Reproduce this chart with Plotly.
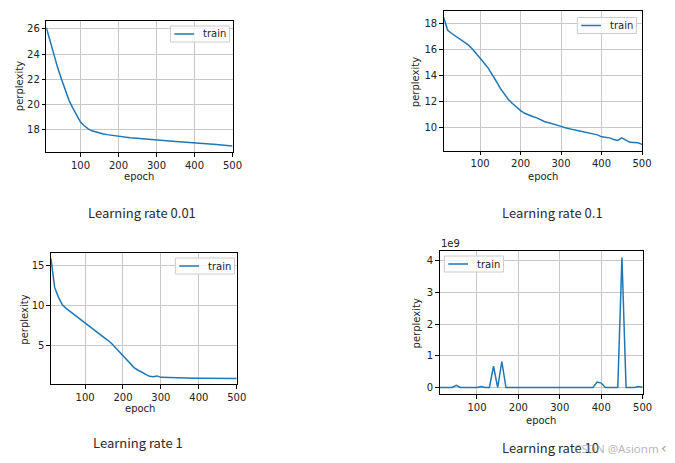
import plotly.graph_objects as go

epochs = list(range(10, 501, 10))

ppl_lr_001 = [26.1, 25.0, 23.9, 22.9, 22.0, 21.1, 20.3, 19.7, 19.1, 18.6,
              18.3, 18.05, 17.9, 17.8, 17.72, 17.65, 17.6, 17.55, 17.5, 17.47,
              17.43, 17.4, 17.36, 17.33, 17.3, 17.28, 17.25, 17.22, 17.19, 17.16,
              17.14, 17.11, 17.09, 17.07, 17.05, 17.03, 17.0, 16.98, 16.96, 16.93,
              16.91, 16.89, 16.87, 16.85, 16.83, 16.8, 16.77, 16.75, 16.72, 16.69]

ppl_lr_01 = [18.45, 17.45, 17.2, 17.0, 16.8, 16.6, 16.35, 16.05, 15.7, 15.35,
             14.95, 14.55, 14.1, 13.55, 13.0, 12.55, 12.15, 11.85, 11.55, 11.3,
             11.1, 10.95, 10.85, 10.75, 10.6, 10.45, 10.38, 10.3, 10.22, 10.1,
             10.0, 9.9, 9.85, 9.78, 9.72, 9.65, 9.57, 9.5, 9.45, 9.3,
             9.28, 9.22, 9.1, 9.02, 9.22, 9.05, 8.88, 8.86, 8.84, 8.72]

ppl_lr_1 = [15.8, 12.2, 11.0, 10.1, 9.65, 9.3, 8.95, 8.55, 8.15, 7.8,
            7.45, 7.1, 6.75, 6.4, 6.1, 5.7, 5.3, 4.8, 4.25, 3.7,
            3.2, 2.7, 2.3, 2.0, 1.75, 1.4, 1.25, 1.2, 1.3, 1.12,
            1.1, 1.15, 1.08, 1.05, 1.02, 1.02, 1.03, 1.02, 1.01, 1.02,
            1.01, 1.01, 1.0, 1.0, 1.0, 1.0, 0.99, 0.99, 0.98, 0.97]

ppl_lr_10 = [1e5, 2e5, 1e5, 1e5, 7e7, 1e5, 1e5, 1e7, 1e5, 1e5,
             3e7, 1e5, 1e5, 6.7e8, 1e5, 8.2e8, 1e5, 1e5, 1e5, 1e5,
             1e5, 1e5, 1e5, 1e5, 1e5, 1e5, 1e5, 1e5, 1e5, 1e5,
             1e5, 1e5, 1e5, 1e5, 2e7, 1e5, 1e5, 1e5, 1.7e8, 1.4e8,
             1e5, 1e5, 1e5, 1e5, 4.1e9, 1e5, 1e5, 1e5, 3e7, 1e7]

titles = ["Learning rate 0.01", "Learning rate 0.1", "Learning rate 1", "Learning rate 10"]
legend_label = "train"
x_ticks = [100, 200, 300, 400, 500]
y_ticks = [[18, 20, 22, 24, 26], [10, 12, 14, 16, 18], [5, 10, 15], [0, 1e9, 2e9, 3e9, 4e9]]
y_ticktext = [["18", "20", "22", "24", "26"], ["10", "12", "14", "16", "18"],
              ["5", "10", "15"], ["0", "1", "2", "3", "4"]]
y_ranges = [[16.22, 26.62], [8.24, 18.92], [0.3, 16.52], [-0.205e9, 4.305e9]]
series = [ppl_lr_001, ppl_lr_01, ppl_lr_1, ppl_lr_10]

W, H = 675, 463
BLUE = "#1f77b4"
# plot areas in pixels: (left, right, top, bottom)
boxes = [(47, 236, 21, 152), (450.3, 651.7, 11, 150.7),
         (51.7, 240.3, 252.7, 384), (446.3, 652.3, 251, 394)]

def px(x):
    return x / W

def py(y):
    return 1 - y / H

FONT = dict(family="DejaVu Sans", size=10, color="#222")
fig = go.Figure()
layout = dict(width=W, height=H, margin=dict(l=0, r=0, t=0, b=0),
              paper_bgcolor="white", plot_bgcolor="white", showlegend=False)

for i in range(4):
    l, r, t, b = boxes[i]
    sfx = "" if i == 0 else str(i + 1)
    fig.add_trace(go.Scatter(x=epochs, y=series[i], mode="lines", name=legend_label,
                             line=dict(color=BLUE, width=1.5),
                             xaxis="x" + sfx, yaxis="y" + sfx))
    common = dict(showline=True, linecolor="black", linewidth=1, mirror=True,
                  ticks="outside", ticklen=3.5, tickwidth=1, tickcolor="black",
                  showgrid=True, gridcolor="#c8c8c8", gridwidth=1, zeroline=False,
                  tickfont=FONT)
    layout["xaxis" + sfx] = dict(common, domain=[px(l), px(r)], range=[10, 500],
                                 tickvals=x_ticks, anchor="y" + sfx)
    layout["yaxis" + sfx] = dict(common, domain=[py(b), py(t)], range=y_ranges[i],
                                 tickvals=y_ticks[i], ticktext=y_ticktext[i],
                                 anchor="x" + sfx)

fig.update_layout(**layout)

# legend boxes (left, top) in pixels, matplotlib-style
legend_boxes = [(173, 26), (586, 17.5), (178, 258), (451, 256)]
LW, LH = 60, 16
shapes = []
ann = []
for (lx, ly) in legend_boxes:
    shapes.append(dict(type="rect", xref="paper", yref="paper",
                       x0=px(lx), x1=px(lx + LW), y0=py(ly + LH), y1=py(ly),
                       line=dict(color="#cccccc", width=1),
                       fillcolor="rgba(255,255,255,0.8)"))
    shapes.append(dict(type="line", xref="paper", yref="paper",
                       x0=px(lx + 4), x1=px(lx + 24), y0=py(ly + LH / 2), y1=py(ly + LH / 2),
                       line=dict(color=BLUE, width=1.5)))
    ann.append(dict(x=px(lx + 31), y=py(ly + LH / 2), xref="paper", yref="paper",
                    text=legend_label, showarrow=False, xanchor="left", yanchor="middle",
                    font=FONT))

epoch_pos = [(141.5, 176), (550.7, 176.7), (141.7, 408.3), (549.3, 420.7)]
ppl_pos = [(20, 86.5), (421.7, 81.7), (24, 320), (422.7, 323)]
for i in range(4):
    ex, ey = epoch_pos[i]
    ann.append(dict(x=px(ex), y=py(ey), xref="paper", yref="paper", text="epoch",
                    showarrow=False, xanchor="center", yanchor="middle", font=FONT))
    qx, qy = ppl_pos[i]
    ann.append(dict(x=px(qx), y=py(qy), xref="paper", yref="paper", text="perplexity",
                    showarrow=False, xanchor="center", yanchor="middle", textangle=-90,
                    font=FONT))

ann.append(dict(x=px(446), y=py(243), xref="paper", yref="paper", text="1e9",
                showarrow=False, xanchor="left", yanchor="middle", font=FONT))

title_pos = [(144.5, 213, "center"), (560.5, 212, "center"), (140, 442, "center"), (508, 447, "left")]
for i in range(4):
    tx, ty, anc = title_pos[i]
    ann.append(dict(x=px(tx), y=py(ty), xref="paper", yref="paper", text=titles[i],
                    showarrow=False, xanchor=anc, yanchor="middle",
                    font=dict(family="Noto Sans CJK SC", size=13, color="#2a2a2a")))

ann.append(dict(x=px(581), y=py(448), xref="paper", yref="paper", text="CSDN @Asionm",
                showarrow=False, xanchor="left", yanchor="middle",
                font=dict(family="Noto Sans", size=11.5, color="rgba(150,150,150,0.7)")))
ann.append(dict(x=px(669), y=py(448), xref="paper", yref="paper", text="‹",
                showarrow=False, xanchor="left", yanchor="middle",
                font=dict(family="DejaVu Sans", size=14, color="#999")))

fig.update_layout(annotations=ann, shapes=shapes)
fig.write_html("out.html")
